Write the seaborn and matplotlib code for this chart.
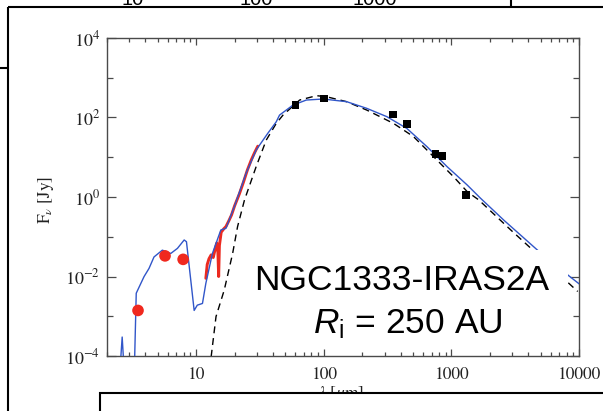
import numpy as np
import pandas as pd
import matplotlib
matplotlib.use("Agg")
import matplotlib.pyplot as plt
import seaborn as sns
from matplotlib.lines import Line2D
from matplotlib.patches import Rectangle
from matplotlib.ticker import FixedLocator, FuncFormatter, NullFormatter

# ---------------- data ----------------
# black squares: sub-mm / far-IR photometry
phot_wl = [60, 100, 350, 450, 750, 850, 1300]
phot_flux = [206, 304, 120, 69, 12.1, 10.7, 1.12]

# red circles: near/mid-IR photometry
ir_wl = [3.5, 5.7, 7.9]
ir_flux = [1.4e-3, 0.033, 0.027]

# red spectrum (IRS)
spec_wl = [11.9, 12.2, 12.6, 13.1, 13.6, 14.0, 14.5, 14.8, 15.0, 15.2, 15.7,
           16.5, 17.1, 18.0, 18.9, 20.0, 21.8, 23.5, 25.2, 27.0, 28.6, 30.4]
spec_flux = [0.009, 0.02, 0.028, 0.035, 0.03, 0.045, 0.07, 0.04, 0.01, 0.06, 0.13,
             0.16, 0.18, 0.25, 0.35, 0.6, 1.2, 2.4, 4.8, 8.5, 12.8, 19]

# blue model (R_i = 250 AU)
model_wl = [2.45, 2.63, 2.80, 3.24, 3.39, 3.90, 4.27, 4.67, 5.43, 6.32, 7.13,
            8.05, 8.39, 9.64, 10.2, 11.2, 11.9, 13.4, 15.6, 17.1, 19.9, 24.6,
            29.5, 36.4, 42.4, 45, 57.3, 73, 99, 151, 217, 312, 448, 644, 925,
            1331, 1692, 2580, 4730, 8300, 10370]
model_flux = [1e-5, 3.0e-4, 1e-5, 1e-5, 3.8e-3, 9.9e-3, 0.016, 0.031, 0.046, 0.038, 0.051,
              0.083, 0.075, 1.4e-3, 1.9e-3, 2.1e-3, 6.7e-3, 0.038, 0.148, 0.163, 0.57, 3.95,
              15.2, 40, 78, 115, 205, 275, 292, 250, 170, 105, 53, 18.4, 5.8,
              2.0, 0.93, 0.26, 0.046, 0.0105, 6e-3]

# black dashed model
dash_wl = [13.1, 14.3, 16.6, 19.3, 21.1, 23.9, 29.5, 35.4, 42.4, 47.9, 64.7, 87.7,
           105, 151, 217, 352, 505, 726, 1043, 1331, 1642, 2920, 4070, 9770]
dash_flux = [9.6e-5, 9.8e-4, 4.6e-3, 0.038, 0.18, 0.84, 5.8, 27, 71, 115, 275, 354,
             333, 250, 154, 71, 33, 10.3, 3.2, 1.36, 0.84, 0.148, 0.056, 4.2e-3]

x_ticks = [10, 100, 1000, 10000]
x_tick_labels = ["10", "100", "1000", "10000"]
y_ticks = [1e-4, 1e-2, 1e0, 1e2, 1e4]
top_cut_labels = ["10", "100", "1000"]

# ---------------- style ----------------
sns.set_style("ticks")
plt.rcParams["font.family"] = ["STIXGeneral", "DejaVu Serif"]
plt.rcParams["mathtext.fontset"] = "stix"
plt.rcParams["mathtext.rm"] = "Liberation Sans"
plt.rcParams["mathtext.it"] = "Liberation Sans:italic"
plt.rcParams["mathtext.bf"] = "Liberation Sans:bold"

W, H = 603, 411
fig = plt.figure(figsize=(W / 100, H / 100), dpi=100)
fig.patch.set_facecolor("white")

def fx(px):
    return px / W

def fy(py):
    return 1 - py / H

ax = fig.add_axes([fx(107), fy(356), fx(579) - fx(107), fy(38) - fy(356)])
ax.set_facecolor("white")

model_df = pd.DataFrame({"wl": model_wl, "flux": model_flux})
dash_df = pd.DataFrame({"wl": dash_wl, "flux": dash_flux})
spec_df = pd.DataFrame({"wl": spec_wl, "flux": spec_flux})
phot_df = pd.DataFrame({"wl": phot_wl, "flux": phot_flux})
ir_df = pd.DataFrame({"wl": ir_wl, "flux": ir_flux})

ax.set_xscale("log")
ax.set_yscale("log")

sns.lineplot(data=dash_df, x="wl", y="flux", ax=ax, sort=False, estimator=None,
             color="black", lw=1.0, linestyle=(0, (5, 3.5)), zorder=2)
sns.lineplot(data=spec_df, x="wl", y="flux", ax=ax, sort=False, estimator=None,
             color="#ec2a20", lw=2.1, zorder=3)
sns.lineplot(data=model_df, x="wl", y="flux", ax=ax, sort=False, estimator=None,
             color="#3156c9", lw=1.0, zorder=4)
sns.scatterplot(data=phot_df, x="wl", y="flux", ax=ax, marker="s", s=30,
                color="black", edgecolor="none", zorder=5)
sns.scatterplot(data=ir_df, x="wl", y="flux", ax=ax, marker="o", s=70,
                color="#f0281e", edgecolor="none", zorder=5)

ax.set_xlim(2, 10000)
ax.set_ylim(1e-4, 1e4)

# ticks
ax.xaxis.set_major_locator(FixedLocator(x_ticks))
ax.set_xticklabels(x_tick_labels)
minor_x = [m * 10 ** d for d in range(0, 4) for m in range(2, 10) if 2 <= m * 10 ** d <= 10000]
ax.xaxis.set_minor_locator(FixedLocator(minor_x))
ax.xaxis.set_minor_formatter(NullFormatter())

ax.yaxis.set_major_locator(FixedLocator(y_ticks))
ax.yaxis.set_major_formatter(FuncFormatter(lambda v, p: r"$10^{%d}$" % int(round(np.log10(v)))))
ax.yaxis.set_minor_locator(FixedLocator([1e-3, 1e-1, 1e1, 1e3]))
ax.yaxis.set_minor_formatter(NullFormatter())

frame_col = "#4a4a4a"
for s in ax.spines.values():
    s.set_color(frame_col)
    s.set_linewidth(1.0)
ax.tick_params(axis="both", which="both", direction="in", top=True, right=True,
               color=frame_col, width=0.9, labelcolor="#222222", labelsize=12.5)
ax.tick_params(axis="y", which="major", labelsize=13)
ax.tick_params(axis="x", which="major", length=5, pad=8)
ax.tick_params(axis="x", which="minor", length=3)
ax.tick_params(axis="y", which="major", length=6.5, pad=5)
ax.tick_params(axis="y", which="minor", length=4)

ax.set_xlabel(r"$\lambda$ [$\mu$m]", fontsize=12.5, color="#222222", math_fontfamily="stix")
ax.set_ylabel(r"F$_\nu$ [Jy]", fontsize=12.5, color="#222222", math_fontfamily="stix")
ax.xaxis.set_label_coords(0.494, -0.088)
ax.yaxis.set_label_coords(-0.108, 0.49)

# white box behind the annotation
fig.add_artist(Rectangle((fx(245), fy(345)), fx(568) - fx(245), fy(250) - fy(345),
                         transform=fig.transFigure, facecolor="white",
                         edgecolor="none", zorder=6))
fig.text(fx(402), fy(290), "NGC1333-IRAS2A", ha="center", va="baseline",
         family="Liberation Sans", fontsize=25.5, color="black", zorder=7)
fig.text(fx(408), fy(333), r"$R_\mathrm{i}$ = 250 AU", ha="center", va="baseline",
         family="Liberation Sans", fontsize=25.5, color="black", zorder=7,
         math_fontfamily="custom")

# surrounding slide frame pieces
lk = dict(transform=fig.transFigure, color="black", lw=1.5, zorder=20,
          solid_capstyle="butt")
fig.add_artist(Line2D([fx(8), fx(603)], [fy(7), fy(7)], **lk))
fig.add_artist(Line2D([fx(8), fx(8)], [fy(7), fy(411)], **lk))
fig.add_artist(Line2D([fx(0), fx(8)], [fy(68), fy(68)], **lk))
fig.add_artist(Line2D([fx(511), fx(511)], [fy(0), fy(7)], **lk))

# bottom box covering part of the x label
fig.add_artist(Rectangle((fx(100), fy(420)), fx(620) - fx(100), fy(393) - fy(420),
                         transform=fig.transFigure, facecolor="white",
                         edgecolor="black", lw=1.5, zorder=20))

# cut-off labels at the very top (only their lower edge shows, as in the source)
for xp, lab in zip([133, 256, 375], top_cut_labels):
    fig.text(fx(xp), fy(5.0), lab, ha="center", va="baseline",
             family="Liberation Sans", fontsize=14.5, color="black", zorder=19)

fig.savefig("out.png", dpi=100, facecolor="white")
